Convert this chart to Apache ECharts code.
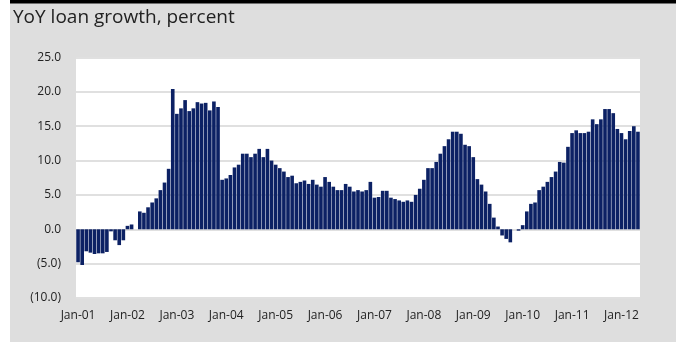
<!DOCTYPE html>
<html>
<head>
<meta charset="utf-8">
<script src="https://cdn.jsdelivr.net/npm/echarts@6/dist/echarts.min.js"></script>
<style>
  html, body { margin: 0; padding: 0; background: #ffffff; }
  #chart { width: 679px; height: 342px; }
</style>
</head>
<body>
<div id="chart"></div>
<script>
// Monthly year-on-year loan growth, Jan 2001 - May 2012 (percent)
const years = ['01', '02', '03', '04', '05', '06', '07', '08', '09', '10', '11', '12'];
const monthNames = ['Jan', 'Feb', 'Mar', 'Apr', 'May', 'Jun', 'Jul', 'Aug', 'Sep', 'Oct', 'Nov', 'Dec'];
const tickLabels = ['Jan-01', 'Jan-02', 'Jan-03', 'Jan-04', 'Jan-05', 'Jan-06',
                    'Jan-07', 'Jan-08', 'Jan-09', 'Jan-10', 'Jan-11', 'Jan-12'];

const growth2001 = [-4.8, -5.2, -3.2, -3.4, -3.6, -3.5, -3.5, -3.3, -0.3, -1.6, -2.3, -1.6];
const growth2002 = [0.5, 0.7, 0.0, 2.6, 2.4, 3.2, 3.9, 4.5, 5.7, 6.8, 8.8, 20.4];
const growth2003 = [16.8, 17.6, 18.8, 17.2, 17.6, 18.5, 18.3, 18.4, 17.3, 18.6, 17.8, 7.2];
const growth2004 = [7.4, 7.9, 9.0, 9.4, 11.0, 11.0, 10.5, 11.0, 11.7, 10.5, 11.7, 10.0];
const growth2005 = [9.4, 8.9, 8.4, 7.6, 7.8, 6.7, 6.9, 7.1, 6.6, 7.2, 6.5, 6.2];
const growth2006 = [7.6, 6.9, 6.2, 5.7, 5.7, 6.6, 6.2, 5.5, 5.7, 5.5, 5.7, 6.9];
const growth2007 = [4.6, 4.7, 5.6, 5.6, 4.6, 4.4, 4.2, 4.0, 4.2, 4.0, 5.0, 5.9];
const growth2008 = [7.2, 8.9, 8.9, 9.8, 11.0, 12.1, 13.1, 14.2, 14.2, 13.9, 12.3, 12.1];
const growth2009 = [10.5, 7.3, 6.5, 5.5, 3.7, 1.7, 0.4, -0.9, -1.4, -1.9, 0.0, -0.2];
const growth2010 = [0.6, 2.6, 3.7, 3.9, 5.7, 6.2, 6.9, 7.6, 8.4, 9.8, 9.7, 12.0];
const growth2011 = [14.0, 14.4, 14.0, 14.0, 14.2, 16.0, 15.3, 16.0, 17.5, 17.5, 16.9, 14.6];
const growth2012 = [14.0, 13.1, 14.3, 15.0, 14.2];

const yearly = [growth2001, growth2002, growth2003, growth2004, growth2005, growth2006,
                growth2007, growth2008, growth2009, growth2010, growth2011, growth2012];

// Flatten into month categories and values
const categories = [];
const values = [];
yearly.forEach(function (arr, yi) {
  arr.forEach(function (v, mi) {
    categories.push(monthNames[mi] + '-' + years[yi]);
    values.push(v);
  });
});

const FONT = '"Open Sans", "Noto Sans", sans-serif';
const chart = echarts.init(document.getElementById('chart'), null, { renderer: 'canvas' });

chart.setOption({
  animation: false,
  backgroundColor: '#ffffff',
  graphic: [
    { type: 'rect', left: 10, top: 0, shape: { width: 666, height: 342 },
      style: { fill: '#dedede' }, z: -10, silent: true },
    { type: 'rect', left: 10, top: 0, shape: { width: 666, height: 3.5 },
      style: { fill: '#000000' }, z: -9, silent: true },
    { type: 'text', left: 13, top: 8,
      style: { text: 'YoY loan growth, percent', fill: '#222222',
               font: '19px ' + FONT }, z: 10 }
  ],
  grid: {
    left: 76, right: 39, top: 57.5, bottom: 44,
    show: true, backgroundColor: '#ffffff', borderWidth: 0
  },
  xAxis: {
    type: 'category',
    data: categories,
    boundaryGap: true,
    axisLine: { show: false, onZero: false },
    axisTick: { show: false },
    axisLabel: {
      interval: function (index, value) { return tickLabels.indexOf(value) !== -1; },
      color: '#222222',
      fontFamily: FONT,
      fontSize: 12,
      margin: 12
    },
    splitLine: { show: false }
  },
  yAxis: {
    type: 'value',
    min: -10,
    max: 25,
    interval: 5,
    axisLine: { show: false },
    axisTick: { show: false },
    axisLabel: {
      color: '#222222',
      fontFamily: FONT,
      fontSize: 12,
      margin: 15,
      formatter: function (v) {
        return v < 0 ? '(' + Math.abs(v).toFixed(1) + ')' : v.toFixed(1);
      }
    },
    splitLine: { show: true, lineStyle: { color: '#e0e0e0', width: 2 } }
  },
  series: [{
    type: 'bar',
    data: values,
    barCategoryGap: '12%',
    itemStyle: { color: '#0c2164' }
  }]
});
</script>
</body>
</html>
